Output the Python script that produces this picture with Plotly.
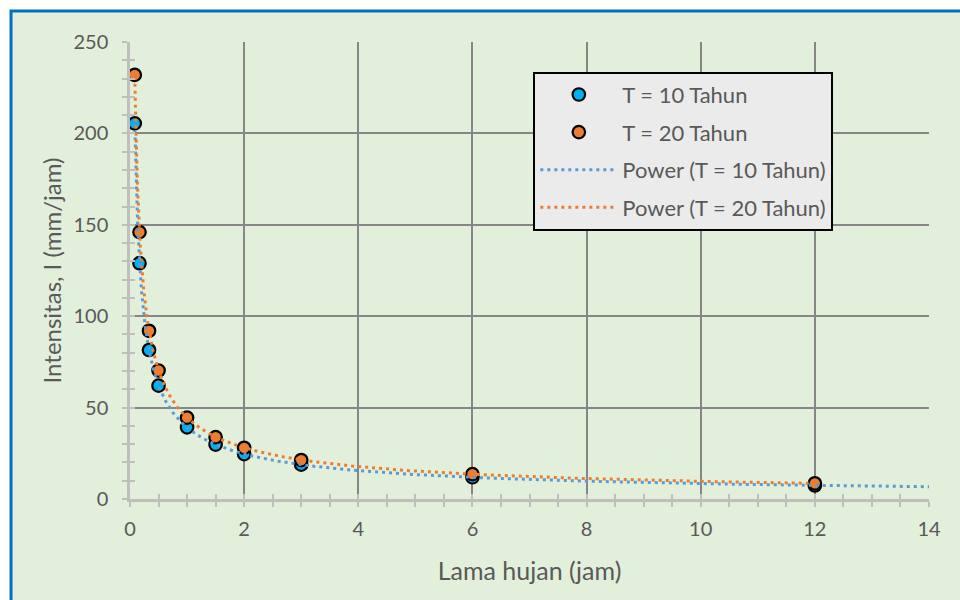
import numpy as np
import plotly.graph_objects as go

# ---- data ----
durasi_jam = [0.0833, 0.1667, 0.3333, 0.5, 1.0, 1.5, 2.0, 3.0, 6.0, 12.0]
intensitas_T10 = [205.5, 129.0, 81.5, 62.0, 39.2, 29.8, 24.6, 18.8, 11.9, 7.4]
intensitas_T20 = [232.0, 146.0, 92.0, 70.3, 44.5, 33.8, 28.0, 21.3, 13.6, 8.6]
nama_seri = ["T = 10 Tahun", "T = 20 Tahun"]
nama_trend = ["Power (T = 10 Tahun)", "Power (T = 20 Tahun)"]
trend_akhir = [14.0, 12.0]          # x where each trendline ends
x_ticks = [0, 2, 4, 6, 8, 10, 12, 14]
y_ticks = [0, 50, 100, 150, 200, 250]

marker_colors = ["#00B0F0", "#ED7D31"]
trend_colors = ["#5B9BD5", "#ED7D31"]
FONT = "Lato"
TXT = "#595959"

fig = go.Figure()

series = [intensitas_T10, intensitas_T20]
for i, ys in enumerate(series):
    fig.add_trace(go.Scatter(
        x=durasi_jam, y=ys, mode="markers", name=nama_seri[i],
        legendgroup=f"g{i}",
        marker=dict(size=12.5, color=marker_colors[i], line=dict(color="#000000", width=2.2)),
    ))

# Excel-style power trendlines: least-squares fit in log-log space
for i, ys in enumerate(series):
    b, ln_a = np.polyfit(np.log(durasi_jam), np.log(ys), 1)
    xt = np.geomspace(durasi_jam[0], trend_akhir[i], 400)
    yt = np.exp(ln_a) * xt ** b
    fig.add_trace(go.Scatter(
        x=xt, y=yt, mode="lines", name=nama_trend[i], legendgroup=f"t{i}",
        line=dict(color=trend_colors[i], width=3, dash="3px,4px"),
        hoverinfo="skip",
    ))

# invisible trace for the overlay axes (inner half of the tick marks)
fig.add_trace(go.Scatter(x=[0], y=[0], xaxis="x2", yaxis="y2", mode="markers",
                         marker=dict(opacity=0), showlegend=False, hoverinfo="skip"))

tick_font = dict(family=FONT, size=20, color=TXT)
axis_grey = "#BFBFBF"
grid_grey = "#868686"

fig.update_layout(
    width=960, height=600,
    margin=dict(l=130, r=31, t=42, b=101),
    paper_bgcolor="#FFFFFF",
    plot_bgcolor="#FFFFFF",
    showlegend=True,
    legend=dict(
        x=0.5048, y=0.935, xanchor="left", yanchor="top",
        bgcolor="#EBEBEB", bordercolor="#000000", borderwidth=2,
        font=dict(family=FONT, size=22, color=TXT),
        itemwidth=77, tracegroupgap=6, traceorder="grouped",
    ),
    xaxis=dict(
        range=[0, 14], tickvals=x_ticks, showgrid=True, gridcolor=grid_grey, gridwidth=2,
        showline=True, linecolor=axis_grey, linewidth=2.5, zeroline=False,
        ticks="outside", ticklen=5, tickwidth=2, tickcolor=axis_grey,
        minor=dict(dtick=0.5, ticks="outside", ticklen=5, tickwidth=2, tickcolor=axis_grey, showgrid=False),
        tickfont=tick_font, ticklabelstandoff=5,
        title=dict(text="Lama hujan (jam)", font=dict(family=FONT, size=25, color=TXT), standoff=24),
    ),
    yaxis=dict(
        range=[0, 250], tickvals=y_ticks, showgrid=True, gridcolor=grid_grey, gridwidth=2,
        showline=True, linecolor=axis_grey, linewidth=2.5, zeroline=False,
        ticks="outside", ticklen=5, tickwidth=2, tickcolor=axis_grey,
        minor=dict(dtick=10, ticks="outside", ticklen=5, tickwidth=2, tickcolor=axis_grey, showgrid=False),
        tickfont=tick_font, ticklabelstandoff=10,
        title=dict(text="Intensitas, I (mm/jam)", font=dict(family=FONT, size=24, color=TXT), standoff=6),
    ),
    xaxis2=dict(range=[0, 14], overlaying="x", anchor="y2", side="bottom", tickvals=x_ticks,
                showgrid=False, showline=False, zeroline=False, showticklabels=False,
                ticks="inside", ticklen=5, tickwidth=2, tickcolor=axis_grey,
                minor=dict(dtick=0.5, ticks="inside", ticklen=5, tickwidth=2, tickcolor=axis_grey)),
    yaxis2=dict(range=[0, 250], overlaying="y", anchor="x2", side="left", tickvals=y_ticks,
                showgrid=False, showline=False, zeroline=False, showticklabels=False,
                ticks="inside", ticklen=5, tickwidth=2, tickcolor=axis_grey,
                minor=dict(dtick=10, ticks="inside", ticklen=5, tickwidth=2, tickcolor=axis_grey)),
    shapes=[dict(
        type="rect", xref="paper", yref="paper", layer="below",
        x0=-0.1489, x1=1.06, y0=-0.25, y1=1.068,
        fillcolor="#E2EFDA", line=dict(color="#0070C0", width=3),
    )],
)

fig.write_html("out.html")
